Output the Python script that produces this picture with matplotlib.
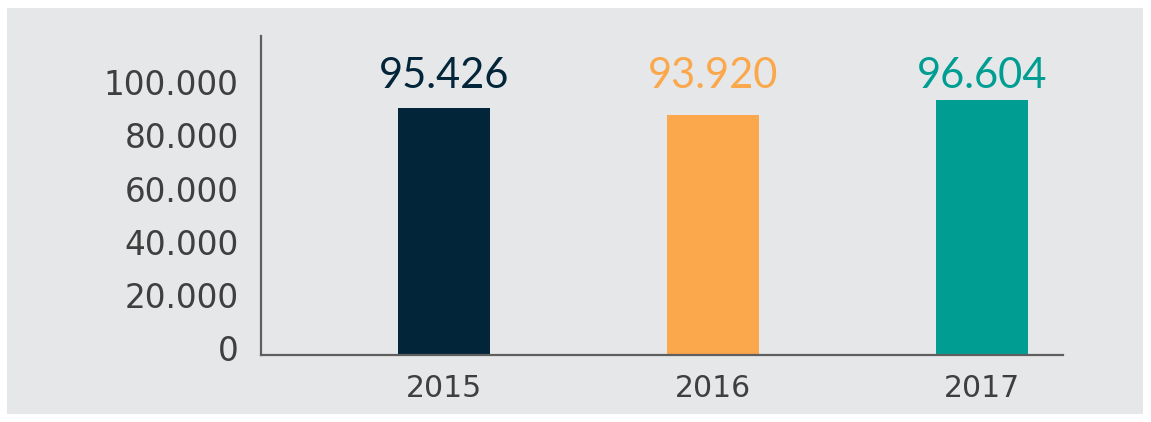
#!/usr/bin/env python3
"""
Bar chart of yearly totals 2015-2017
"""

import matplotlib
matplotlib.use('Agg')
import matplotlib.pyplot as plt
import matplotlib.transforms as mtransforms
from matplotlib.patches import Rectangle

years = ['2015', '2016', '2017']
# bar heights as drawn in the picture
heights = [92900, 90200, 95900]
value_labels = ['95.426', '93.920', '96.604']
colors = ['#03253a', '#fba84c', '#009e92']
yticks = [0, 20000, 40000, 60000, 80000, 100000]
ytick_labels = ['0', '20.000', '40.000', '60.000', '80.000', '100.000']

fig = plt.figure(figsize=(11.51, 4.22), dpi=100, facecolor='white')

# Gray panel with a thin white border
fig.patches.append(Rectangle((7 / 1151, 1 - 414 / 422), 1136 / 1151, 406 / 422,
                             transform=fig.transFigure, facecolor='#e6e7e9',
                             edgecolor='none', zorder=-10))

# axes: x 261..1063 px, y 36..355 px
ax = fig.add_axes([261 / 1151, 1 - 355 / 422, 802 / 1151, 319 / 422])
ax.set_facecolor('none')
ax.set_zorder(5)

x = range(len(years))
ax.bar(x, heights, width=0.342, color=colors, zorder=2)

for i, (lab, c) in enumerate(zip(value_labels, colors)):
    ax.text(i, 100600, lab, color=c, ha='center', va='baseline',
            fontsize=30, family=['Lato', 'DejaVu Sans'])

ax.set_xlim(-0.68, 2.30)
ax.set_ylim(0, 120000)

ax.set_xticks(list(x))
ax.set_xticklabels(years, fontsize=21.5, color='#3f3f3f')
ax.set_yticks(yticks)
ax.set_yticklabels(ytick_labels, fontsize=23.5, color='#3f3f3f')
ax.tick_params(axis='x', length=0, pad=14)
ax.tick_params(axis='y', length=0, pad=16)

# y labels sit slightly above their tick positions
shift = mtransforms.ScaledTranslation(0, 7 / 100, fig.dpi_scale_trans)
for lbl in ax.get_yticklabels():
    lbl.set_transform(lbl.get_transform() + shift)

for side in ['top', 'right']:
    ax.spines[side].set_visible(False)
for side in ['left', 'bottom']:
    ax.spines[side].set_color('#5f5f5f')
    ax.spines[side].set_linewidth(1.6)

fig.savefig('out.png', dpi=100, facecolor='white')
